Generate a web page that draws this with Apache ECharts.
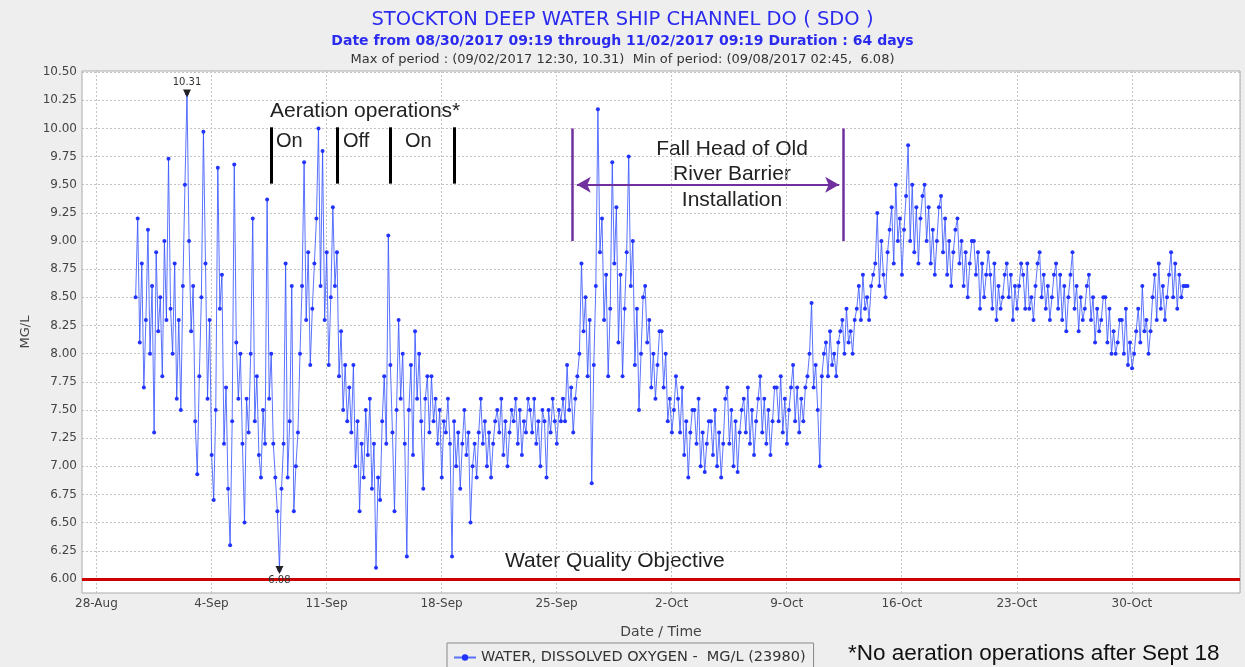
<!DOCTYPE html>
<html>
<head>
<meta charset="utf-8">
<script src="https://cdn.jsdelivr.net/npm/echarts@6/dist/echarts.min.js"></script>
<style>
  html, body { margin: 0; padding: 0; background: #eeeeee; }
  #chart { width: 1245px; height: 667px; }
</style>
</head>
<body>
<div id="chart"></div>
<script>
// x values are days since 28-Aug-2017 00:00
var axisOrigin = Date.UTC(2017, 7, 28, 0, 0);
var firstSample = Date.UTC(2017, 7, 30, 9, 19);
var sampleStepHours = 3;
var monthNames = ['Jan','Feb','Mar','Apr','May','Jun','Jul','Aug','Sep','Oct','Nov','Dec'];

// dissolved oxygen, MG/L, one row per day (09:19, 12:19 ... 06:19)
var doValues = [
  8.5, 9.2, 8.1, 8.8, 7.7, 8.3, 9.1, 8.0,
  8.6, 7.3, 8.9, 8.2, 8.5, 7.8, 9.0, 8.3,
  9.73, 8.4, 8.0, 8.8, 7.6, 8.3, 7.5, 8.6,
  9.5, 10.31, 9.0, 8.2, 8.6, 7.4, 6.93, 7.8,
  8.5, 9.97, 8.8, 7.6, 8.3, 7.1, 6.7, 7.5,
  9.65, 8.4, 8.7, 7.2, 7.7, 6.8, 6.3, 7.4,
  9.68, 8.1, 7.6, 8.0, 7.2, 6.5, 7.6, 7.3,
  8.0, 9.2, 7.4, 7.8, 7.1, 6.9, 7.5, 7.2,
  9.37, 7.6, 8.0, 7.2, 6.9, 6.6, 6.08, 6.8,
  7.2, 8.8, 6.9, 7.4, 8.6, 6.6, 7.0, 7.3,
  8.0, 8.6, 9.7, 8.3, 8.9, 7.9, 8.4, 8.8,
  9.2, 10.0, 8.6, 9.8, 8.3, 8.9, 7.9, 8.5,
  9.3, 8.6, 8.9, 7.8, 8.2, 7.5, 7.9, 7.4,
  7.7, 7.3, 7.9, 7.0, 7.4, 6.6, 7.2, 6.9,
  7.5, 7.1, 7.6, 6.8, 7.2, 6.1, 6.9, 6.7,
  7.4, 7.8, 7.2, 9.05, 7.9, 7.3, 6.6, 7.5,
  8.3, 7.6, 8.0, 7.2, 6.2, 7.5, 7.9, 7.1,
  8.2, 7.6, 8.0, 7.4, 6.8, 7.6, 7.8, 7.3,
  7.8, 7.4, 7.6, 7.2, 7.5, 6.9, 7.4, 7.3,
  7.6, 7.2, 6.2, 7.4, 7.0, 7.3, 6.8, 7.2,
  7.5, 7.1, 7.3, 6.5, 7.0, 7.2, 6.9, 7.3,
  7.6, 7.2, 7.4, 7.0, 7.3, 6.9, 7.2, 7.4,
  7.5, 7.3, 7.6, 7.1, 7.4, 7.0, 7.3, 7.5,
  7.4, 7.6, 7.2, 7.5, 7.1, 7.4, 7.3, 7.6,
  7.5, 7.3, 7.6, 7.2, 7.4, 7.0, 7.5, 7.4,
  6.9, 7.5, 7.3, 7.6, 7.4, 7.2, 7.5, 7.4,
  7.6, 7.4, 7.9, 7.5, 7.7, 7.3, 7.6, 7.8,
  8.0, 8.8, 8.2, 8.5, 7.8, 8.3, 6.85, 7.9,
  8.6, 10.17, 8.9, 9.2, 8.3, 8.7, 7.8, 8.4,
  9.7, 8.8, 9.3, 8.1, 8.7, 7.8, 8.4, 8.9,
  9.75, 8.6, 9.0, 7.9, 8.4, 7.5, 8.0, 8.5,
  8.6, 8.1, 8.3, 7.7, 8.0, 7.6, 7.9, 8.2,
  8.2, 7.7, 8.0, 7.4, 7.6, 7.3, 7.5, 7.8,
  7.6, 7.3, 7.7, 7.1, 7.4, 6.9, 7.3, 7.5,
  7.5, 7.2, 7.6, 7.0, 7.3, 6.95, 7.2, 7.4,
  7.4, 7.1, 7.5, 7.0, 7.3, 6.9, 7.2, 7.6,
  7.7, 7.2, 7.5, 7.0, 7.4, 6.95, 7.3, 7.5,
  7.6, 7.3, 7.7, 7.2, 7.5, 7.1, 7.4, 7.6,
  7.8, 7.3, 7.6, 7.2, 7.5, 7.1, 7.4, 7.7,
  7.7, 7.4, 7.8, 7.3, 7.6, 7.2, 7.5, 7.7,
  7.9, 7.4, 7.7, 7.3, 7.6, 7.4, 7.7, 7.8,
  8.0, 8.45, 7.7, 7.9, 7.5, 7.0, 7.8, 8.0,
  8.1, 7.8, 8.2, 7.9, 8.0, 7.8, 8.1, 8.2,
  8.3, 8.0, 8.4, 8.1, 8.2, 8.0, 8.3, 8.4,
  8.6, 8.3, 8.7, 8.4, 8.5, 8.3, 8.6, 8.7,
  8.8, 9.25, 8.6, 9.0, 8.7, 8.5, 8.9, 9.1,
  9.3, 8.8, 9.5, 9.0, 9.2, 8.7, 9.1, 9.4,
  9.85, 9.0, 9.5, 8.9, 9.3, 8.8, 9.2, 9.4,
  9.5, 9.0, 9.3, 8.8, 9.1, 8.7, 9.0, 9.3,
  9.4, 8.9, 9.2, 8.7, 9.0, 8.6, 8.9, 9.1,
  9.2, 8.8, 9.0, 8.6, 8.9, 8.5, 8.8, 9.0,
  9.0, 8.7, 8.9, 8.4, 8.8, 8.5, 8.7, 8.9,
  8.7, 8.4, 8.8, 8.3, 8.6, 8.4, 8.5, 8.7,
  8.8, 8.5, 8.7, 8.3, 8.6, 8.4, 8.6, 8.8,
  8.7, 8.4, 8.8, 8.4, 8.5, 8.3, 8.6, 8.8,
  8.9, 8.5, 8.7, 8.4, 8.6, 8.3, 8.5, 8.7,
  8.8, 8.4, 8.7, 8.3, 8.6, 8.2, 8.5, 8.7,
  8.9, 8.4, 8.6, 8.2, 8.5, 8.3, 8.4, 8.6,
  8.7, 8.3, 8.5, 8.1, 8.4, 8.2, 8.3, 8.5,
  8.5, 8.1, 8.4, 8.0, 8.2, 8.0, 8.1, 8.3,
  8.3, 8.0, 8.4, 7.9, 8.1, 7.87, 8.0, 8.2,
  8.4, 8.1, 8.6, 8.2, 8.3, 8.0, 8.2, 8.5,
  8.7, 8.3, 8.8, 8.4, 8.6, 8.3, 8.5, 8.7,
  8.9, 8.5, 8.8, 8.4, 8.7, 8.5, 8.6, 8.6,
  8.6
];

var objective = 6.0;
// aeration on/off boundaries (days since 28-Aug)
var aerationDays = [10.63, 14.64, 17.86, 21.75];
var aerationLabels = ['On', 'Off', 'On'];
// Head of Old River barrier installation period
var barrierDays = [28.98, 45.44];

function toDay(ms) { return (ms - axisOrigin) / 86400000; }

var seriesData = [];
for (var i = 0; i < doValues.length; i++) {
  seriesData.push([toDay(firstSample) + i * sampleStepHours / 24, doValues[i]]);
}

var chart = echarts.init(document.getElementById('chart'));

var markLines = [{
  yAxis: objective,
  lineStyle: { color: '#cc0000', width: 3, type: 'solid' }
}];
aerationDays.forEach(function (d) {
  markLines.push([
    { coord: [d, 9.51], lineStyle: { color: '#000', width: 3, type: 'solid' } },
    { coord: [d, 10.01] }
  ]);
});
barrierDays.forEach(function (d) {
  markLines.push([
    { coord: [d, 9.0], lineStyle: { color: '#7030a0', width: 2.5, type: 'solid' } },
    { coord: [d, 10.0] }
  ]);
});
markLines.push([
  { coord: [barrierDays[0] + 0.25, 9.5], symbol: 'arrow', symbolSize: [12, 14],
    lineStyle: { color: '#7030a0', width: 2, type: 'solid' } },
  { coord: [barrierDays[1] - 0.25, 9.5], symbol: 'arrow', symbolSize: [12, 14] }
]);

var annoFont = '"Liberation Sans", Arial, sans-serif';
var uiFont = 'DejaVu Sans';

var option = {
  backgroundColor: '#eeeeee',
  animation: false,
  title: [
    { text: 'STOCKTON DEEP WATER SHIP CHANNEL DO ( SDO )', left: 'center', top: 5,
      textStyle: { color: '#2b2bf0', fontSize: 19.5, fontWeight: 'normal', fontFamily: uiFont } },
    { text: 'Date from 08/30/2017 09:19 through 11/02/2017 09:19 Duration : 64 days', left: 'center', top: 29,
      textStyle: { color: '#2b2bf0', fontSize: 14, fontWeight: 'bold', fontFamily: uiFont } },
    { text: 'Max of period : (09/02/2017 12:30, 10.31)  Min of period: (09/08/2017 02:45,  6.08)', left: 'center', top: 48,
      textStyle: { color: '#333', fontSize: 13, fontWeight: 'normal', fontFamily: uiFont } }
  ],
  legend: {
    left: 447, top: 643,
    padding: [7, 8, 14, 6],
    borderColor: '#888', borderWidth: 1,
    itemWidth: 22, itemHeight: 8, itemGap: 6,
    textStyle: { color: '#333', fontSize: 14.5, fontFamily: uiFont },
    data: ['WATER, DISSOLVED OXYGEN -  MG/L (23980)']
  },
  grid: {
    left: 82, right: 5, top: 71, bottom: 74,
    show: true, backgroundColor: '#ffffff', borderColor: '#aaaaaa', borderWidth: 1
  },
  xAxis: {
    type: 'value',
    min: -0.875, max: 69.58, interval: 0.875,
    name: 'Date / Time', nameLocation: 'middle', nameGap: 32,
    nameTextStyle: { color: '#444', fontSize: 14, fontFamily: uiFont },
    axisLine: { show: false }, axisTick: { show: false },
    axisLabel: {
      color: '#444', fontSize: 12, fontFamily: uiFont, margin: 5,
      formatter: function (v) {
        if (Math.abs(v / 7 - Math.round(v / 7)) > 1e-6) return '';
        var dt = new Date(axisOrigin + v * 86400000);
        return dt.getUTCDate() + '-' + monthNames[dt.getUTCMonth()];
      }
    },
    splitLine: { show: true, lineStyle: { type: [2, 2], width: 1,
      color: ['transparent', '#c4c4c4', 'transparent', 'transparent', 'transparent', 'transparent', 'transparent', 'transparent'] } }
  },
  yAxis: {
    type: 'value',
    min: 5.875, max: 10.51, interval: 0.125,
    name: 'MG/L', nameLocation: 'middle', nameGap: 49,
    nameTextStyle: { color: '#444', fontSize: 13, fontFamily: uiFont },
    axisLine: { show: false }, axisTick: { show: false },
    axisLabel: {
      color: '#444', fontSize: 12, fontFamily: uiFont, margin: 5,
      formatter: function (v) {
        return Math.abs(v * 4 - Math.round(v * 4)) < 1e-6 ? v.toFixed(2) : '';
      }
    },
    splitLine: { show: true, lineStyle: { type: [2, 2], width: 1, color: ['transparent', '#c4c4c4'] } }
  },
  graphic: [
    { type: 'text', x: 270, y: 101, style: { text: 'Aeration operations*', font: '21px ' + annoFont, fill: '#222' } },
    { type: 'text', x: 276, y: 131, style: { text: aerationLabels[0], font: '20px ' + annoFont, fill: '#222' } },
    { type: 'text', x: 343, y: 131, style: { text: aerationLabels[1], font: '20px ' + annoFont, fill: '#222' } },
    { type: 'text', x: 405, y: 131, style: { text: aerationLabels[2], font: '20px ' + annoFont, fill: '#222' } },
    { type: 'text', x: 732, y: 136, style: { text: 'Fall Head of Old\nRiver Barrier\nInstallation', align: 'center',
      lineHeight: 25.5, font: '21px ' + annoFont, fill: '#222' } },
    { type: 'text', x: 505, y: 551, style: { text: 'Water Quality Objective', font: '21px ' + annoFont, fill: '#222' } },
    { type: 'text', x: 848, y: 642, style: { text: '*No aeration operations after Sept 18', font: '22.5px ' + annoFont, fill: '#111' } }
  ],
  series: [{
    name: 'WATER, DISSOLVED OXYGEN -  MG/L (23980)',
    type: 'line',
    data: seriesData,
    symbol: 'circle', symbolSize: 4, showAllSymbol: true,
    itemStyle: { color: '#2233ff' },
    lineStyle: { color: 'rgba(50,80,255,0.8)', width: 1 },
    markPoint: {
      symbol: 'triangle', symbolSize: 8, symbolRotate: 180,
      itemStyle: { color: '#222' },
      data: [
        { type: 'max', label: { position: 'top', distance: 2 } },
        { type: 'min', label: { position: 'bottom', distance: 1 } }
      ],
      label: { color: '#333', fontSize: 10, fontFamily: uiFont,
        formatter: function (p) { return p.value.toFixed(2); } }
    },
    markLine: {
      silent: true, symbol: 'none',
      label: { show: false },
      data: markLines
    }
  }]
};

chart.setOption(option);
</script>
</body>
</html>
